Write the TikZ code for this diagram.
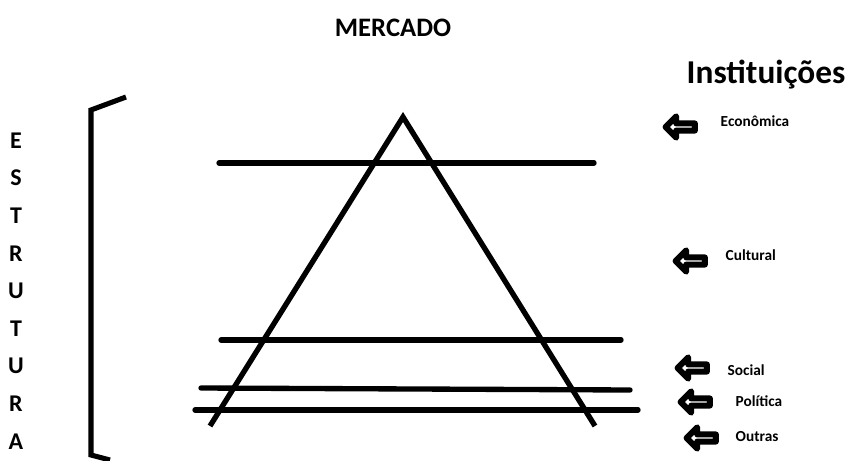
\documentclass[tikz,border=0pt]{standalone}
\usepackage{fontspec}
\setmainfont{Carlito}
\usetikzlibrary{shapes.arrows}
\tikzset{
  bar/.style={line width=4pt, line cap=round},
  letra/.style={font=\fontsize{18}{18}\selectfont\bfseries},
  inst/.style={font=\fontsize{11.5}{12}\selectfont\bfseries, anchor=west},
  seta/.style={single arrow, draw, line width=4.5pt, line join=round, shape border rotate=180,
    minimum height=22pt, minimum width=16pt, single arrow head extend=4.5pt,
    inner sep=0pt, fill=white}
}
\begin{document}
\begin{tikzpicture}[x=0.75pt,y=-0.75pt]
        \useasboundingbox (0,0) rectangle (848,460);
        % titulos
        \node[font=\fontsize{20}{20}\selectfont\bfseries] (mercado) at (393,28) {MERCADO};
        \node[font=\fontsize{25}{25}\selectfont\bfseries] (inst) at (766,75) {Instituições};
        % triangulo
        \coordinate (topo) at (403,117);
        \coordinate (esq) at (210,426);
        \coordinate (dir) at (595,426);
        \draw[line width=4pt, line join=miter] (esq) -- (topo) -- (dir);
        % camadas
        \coordinate (c1a) at (219,163); \coordinate (c1b) at (594,163);
        \coordinate (c2a) at (221,340); \coordinate (c2b) at (621,340);
        \coordinate (c3a) at (201,388); \coordinate (c3b) at (630,390);
        \coordinate (c4a) at (195,410); \coordinate (c4b) at (638,410);
        \draw[bar] (c1a) -- (c1b);
        \draw[bar] (c2a) -- (c2b);
        \draw[bar] (c3a) -- (c3b);
        \draw[bar] (c4a) -- (c4b);
        % chave
        \coordinate (k1) at (126,97);
        \coordinate (k2) at (91,110);
        \coordinate (k3) at (91,455);
        \coordinate (k4) at (110,460);
        \draw[line width=3.8pt, line join=miter] (k1) -- (k2) -- (k3) -- (k4);
        % ESTRUTURA
        \foreach \l [count=\i] in {E,S,T,R,U,T,U,R,A}
          \node[letra] (l\i) at (16, 103+37.6*\i) {\l};
        % instituicoes
        \node[seta] (s1) at (682,127) {};
        \node[inst] (t1) at (716,121) {Econômica};
        \node[seta] (s2) at (692,261) {};
        \node[inst] (t2) at (721,255) {Cultural};
        \node[seta] (s3) at (694,368) {};
        \node[inst] (t3) at (723,370) {Social};
        \node[seta] (s4) at (697,402) {};
        \node[inst] (t4) at (731,401) {Política};
        \node[seta] (s5) at (703,438) {};
        \node[inst] (t5) at (731,437) {Outras};
    \end{tikzpicture}
\end{document}
